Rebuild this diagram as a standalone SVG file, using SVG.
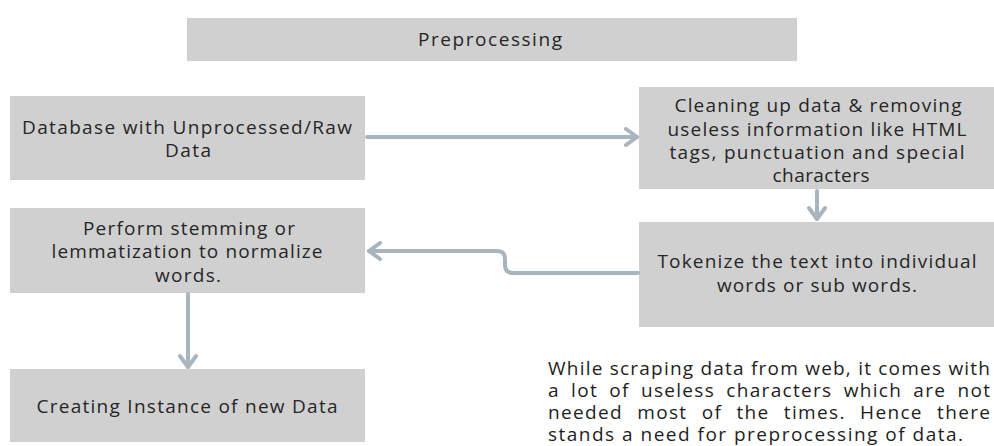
<svg xmlns="http://www.w3.org/2000/svg" width="994" height="446" viewBox="0 0 994 446">
  <defs>
    <style>
      .box { fill: #d0d0d0; }
      .lbl { font-family: "Open Sans", "Noto Sans", sans-serif; font-size: 19px; fill: #262626; text-anchor: middle; }
      .para { font-family: "Open Sans", "Noto Sans", sans-serif; font-size: 19px; fill: #1e1e1e; }
      .edge { fill: none; stroke: #a8b5be; stroke-width: 4; stroke-linecap: round; stroke-linejoin: round; }
    </style>
    <!-- open chevron head used by every connector -->
    <marker id="chev" viewBox="0 0 16 20" refX="14" refY="10" markerWidth="16" markerHeight="20" markerUnits="userSpaceOnUse" orient="auto">
      <path d="M3,2 L14,10 L3,18" fill="none" stroke="#a8b5be" stroke-width="4" stroke-linecap="round" stroke-linejoin="round"/>
    </marker>
  </defs>
  <rect width="994" height="446" fill="#ffffff"/>

  <g id="title">
    <rect class="box" x="187" y="18" width="610" height="43"/>
    <text class="lbl" x="490" y="46" textLength="144" lengthAdjust="spacing">Preprocessing</text>
  </g>

  <g id="raw-data">
    <rect class="box" x="10" y="96" width="355" height="84"/>
    <text class="lbl" x="187" y="134" textLength="330" lengthAdjust="spacing">Database with Unprocessed/Raw</text>
    <text class="lbl" x="188" y="157" textLength="46" lengthAdjust="spacing">Data</text>
  </g>

  <g id="cleaning">
    <rect class="box" x="639" y="87" width="355" height="102"/>
    <text class="lbl" x="818" y="112" textLength="287" lengthAdjust="spacing">Cleaning up data &amp; removing</text>
    <text class="lbl" x="817" y="136" textLength="299" lengthAdjust="spacing">useless information like HTML</text>
    <text class="lbl" x="817" y="159" textLength="295" lengthAdjust="spacing">tags, punctuation and special</text>
    <text class="lbl" x="821" y="182" textLength="97" lengthAdjust="spacing">characters</text>
  </g>

  <g id="stemming">
    <rect class="box" x="10" y="208" width="355" height="85"/>
    <text class="lbl" x="189" y="235" textLength="212" lengthAdjust="spacing">Perform stemming or</text>
    <text class="lbl" x="187" y="258" textLength="271" lengthAdjust="spacing">lemmatization to normalize</text>
    <text class="lbl" x="188" y="282" textLength="66" lengthAdjust="spacing">words.</text>
  </g>

  <g id="tokenize">
    <rect class="box" x="639" y="222" width="355" height="105"/>
    <text class="lbl" x="817" y="268" textLength="319" lengthAdjust="spacing">Tokenize the text into individual</text>
    <text class="lbl" x="817" y="292" textLength="200" lengthAdjust="spacing">words or sub words.</text>
  </g>

  <g id="new-data">
    <rect class="box" x="10" y="369" width="355" height="73"/>
    <text class="lbl" x="187" y="413" textLength="301" lengthAdjust="spacing">Creating Instance of new Data</text>
  </g>

  <!-- justified note: wider word gaps on the middle lines -->
  <g id="note">
    <text class="para" x="548" y="375" textLength="442" lengthAdjust="spacing">While scraping data from web, it comes with</text>
    <text class="para" x="548" y="397" word-spacing="5" textLength="442" lengthAdjust="spacing">a lot of useless characters which are not</text>
    <text class="para" x="548" y="419" word-spacing="8" textLength="442" lengthAdjust="spacing">needed most of the times. Hence there</text>
    <text class="para" x="548" y="441" textLength="415" lengthAdjust="spacing">stands a need for preprocessing of data.</text>
  </g>

  <g id="connectors">
    <path class="edge" d="M367,137 H637" marker-end="url(#chev)"/>
    <path class="edge" d="M817,191 V219" marker-end="url(#chev)"/>
    <path class="edge" d="M638,273 H513 Q505,273 505,265 V259 Q505,251 497,251 H369" marker-end="url(#chev)"/>
    <path class="edge" d="M188,294 V367" marker-end="url(#chev)"/>
  </g>
</svg>
